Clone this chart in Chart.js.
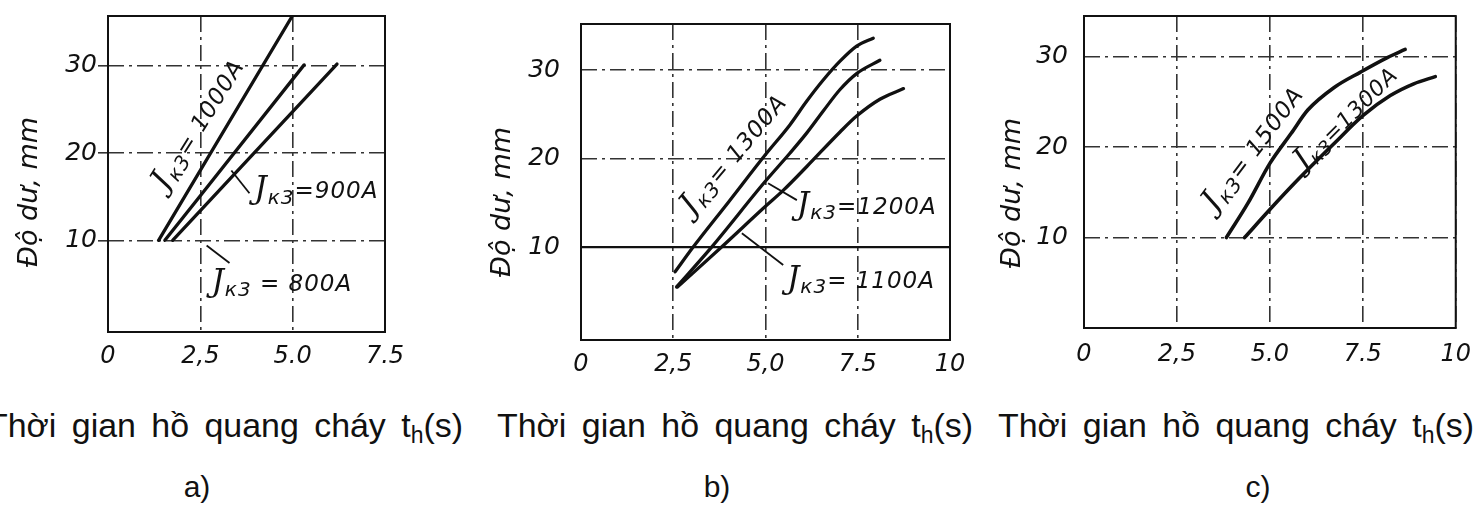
<!DOCTYPE html>
<html>
<head>
<meta charset="utf-8">
<script src="https://cdn.jsdelivr.net/npm/chart.js@4.4.0/dist/chart.umd.min.js"></script>
<style>
  html, body { margin: 0; padding: 0; background: #fff; }
  body { width: 1483px; height: 505px; position: relative; overflow: hidden; }
  canvas { position: absolute; top: 0; }
  .cap { position: absolute; font-family: "Liberation Sans", Arial, sans-serif; font-size: 34px;
         line-height: 1; color: #111; white-space: nowrap; word-spacing: 6px; transform-origin: left top; }
  .cap sub { font-size: 23px; vertical-align: -6px; line-height: 0; }
  .tag { position: absolute; width: 100px; text-align: center; font-family: "Liberation Sans", Arial, sans-serif;
         font-size: 30px; line-height: 1; color: #111; }
</style>
</head>
<body>
<canvas id="ca" width="480" height="385" style="left:0"></canvas>
<canvas id="cb" width="500" height="385" style="left:480px"></canvas>
<canvas id="cc" width="493" height="385" style="left:990px"></canvas>

<div class="cap" style="left:-13px;top:408px">Thời gian hồ quang cháy t<sub>h</sub>(s)</div>
<div class="cap" style="left:497px;top:408px">Thời gian hồ quang cháy t<sub>h</sub>(s)</div>
<div class="cap" style="left:998px;top:408px">Thời gian hồ quang cháy t<sub>h</sub>(s)</div>
<div class="tag" style="left:147px;top:472px">a)</div>
<div class="tag" style="left:667px;top:472px">b)</div>
<div class="tag" style="left:1208px;top:472px">c)</div>

<script>
// ---- axis ticks ----
const yTickValues = [10, 20, 30];
const xTickValuesA = [0, 2.5, 5, 7.5];
const xTickLabelsA = ['0', '2,5', '5.0', '7.5'];
const xTickValuesB = [0, 2.5, 5, 7.5, 10];
const xTickLabelsB = ['0', '2,5', '5,0', '7.5', '10'];
const xTickValuesC = [0, 2.5, 5, 7.5, 10];
const xTickLabelsC = ['0', '2,5', '5.0', '7.5', '10'];
const yTitle = 'Độ dư, mm';

// ---- panel a: arc time (s) vs. margin (mm) ----
const namesA = ['Jк3= 1000A', 'Jк3=900A', 'Jк3 = 800A'];
const timeA1000 = [1.37, 4.99];
const depthA1000 = [10, 35.7];
const timeA900 = [1.54, 5.31];
const depthA900 = [10, 30.1];
const timeA800 = [1.75, 6.2];
const depthA800 = [10, 30.2];

// ---- panel b ----
const namesB = ['Jк3= 1300A', 'Jк3=1200A', 'Jк3= 1100A'];
const timeB1300 = [2.55, 3.04, 4.0, 4.99, 5.66, 6.12, 6.57, 7.02, 7.47, 7.92];
const depthB1300 = [7.2, 10.0, 15.1, 20.4, 23.8, 26.5, 28.9, 31.0, 32.7, 33.6];
const timeB1200 = [2.59, 3.54, 4.99, 5.66, 6.12, 6.57, 7.02, 7.47, 8.1];
const depthB1200 = [5.5, 10.0, 17.4, 20.6, 22.9, 25.4, 27.8, 29.6, 31.1];
const timeB1100 = [2.62, 3.81, 5.0, 5.48, 6.12, 7.02, 7.47, 8.1, 8.74];
const depthB1100 = [5.5, 10.0, 14.6, 16.4, 19.1, 23.0, 24.8, 26.7, 27.9];
const timeBRef = [0, 10];
const depthBRef = [10, 10];

// ---- panel c ----
const namesC = ['Jк3= 1500A', 'Jк3=1300A'];
const timeC1500 = [3.83, 4.41, 5.0, 5.57, 6.02, 6.73, 7.44, 8.16, 8.64];
const depthC1500 = [10.0, 13.8, 18.2, 21.5, 24.1, 26.6, 28.3, 29.9, 30.8];
const timeC1300 = [4.32, 5.0, 5.66, 6.73, 7.51, 8.24, 8.87, 9.45];
const depthC1300 = [10.0, 13.1, 16.0, 20.4, 23.5, 25.7, 27.0, 27.8];

const INK = '#111';
const GRID = '#333';
const DASH = [16, 5, 3, 5];
const TICK_FONT = '"DejaVu Sans", sans-serif';

function pts(t, d) { return t.map((v, i) => ({ x: v, y: d[i] })); }

// "J" + subscript "к3" + "= value"
function drawCurrentLabel(ctx, px, py, text, angle, align, size) {
  const parts = [
    { t: text.slice(0, 1), font: `italic ${Math.round(size * 1.35)}px "DejaVu Serif", serif`, dy: 0 },
    { t: text.slice(1, 3), font: `italic ${Math.round(size * 0.85)}px "DejaVu Sans", sans-serif`, dy: size * 0.22 },
    { t: text.slice(3), font: `italic ${size}px "DejaVu Sans", sans-serif`, dy: 0 }
  ];
  ctx.save();
  ctx.translate(px, py);
  ctx.rotate(-angle * Math.PI / 180);
  ctx.fillStyle = INK;
  ctx.textBaseline = 'alphabetic';
  ctx.textAlign = 'left';
  if ('letterSpacing' in ctx) ctx.letterSpacing = '1px';
  let total = 0;
  parts.forEach(p => { ctx.font = p.font; p.w = ctx.measureText(p.t).width; total += p.w; });
  let cx = align === 'center' ? -total / 2 : 0;
  parts.forEach(p => { ctx.font = p.font; ctx.fillText(p.t, cx, p.dy); cx += p.w; });
  ctx.restore();
}

const decorPlugin = {
  id: 'decor',
  beforeDatasetsDraw(chart) {
    const { ctx, chartArea: a } = chart;
    ctx.save();
    ctx.strokeStyle = INK;
    ctx.lineWidth = 2;
    ctx.strokeRect(a.left, a.top, a.right - a.left, a.bottom - a.top);
    ctx.restore();
  },
  afterDatasetsDraw(chart, args, opts) {
    const { ctx } = chart;
    const xs = chart.scales.x, ys = chart.scales.y;
    // leader lines from a curve to its label
    ctx.save();
    ctx.strokeStyle = INK;
    ctx.lineWidth = 1.8;
    (opts.leaders || []).forEach(l => {
      ctx.beginPath();
      ctx.moveTo(xs.getPixelForValue(l[0]), ys.getPixelForValue(l[1]));
      ctx.lineTo(xs.getPixelForValue(l[2]), ys.getPixelForValue(l[3]));
      ctx.stroke();
    });
    ctx.restore();
    (opts.labels || []).forEach(l => {
      drawCurrentLabel(ctx, xs.getPixelForValue(l.x), ys.getPixelForValue(l.y), l.text, l.angle, l.align, l.size);
    });
    // vertical axis title
    ctx.save();
    ctx.translate(opts.titleX, opts.titleY);
    ctx.rotate(-Math.PI / 2);
    ctx.font = 'italic 27px "DejaVu Sans", sans-serif';
    ctx.fillStyle = INK;
    ctx.textAlign = 'center';
    ctx.textBaseline = 'middle';
    ctx.fillText(yTitle, 0, 0);
    ctx.restore();
  }
};

function makePanel(id, cfg) {
  const datasets = cfg.series.map(s => ({
    data: pts(s.t, s.d),
    borderColor: INK,
    borderWidth: s.w || 3.3,
    pointRadius: 0,
    fill: false,
    cubicInterpolationMode: 'monotone',
    borderCapStyle: 'round',
    borderJoinStyle: 'round'
  }));
  return new Chart(document.getElementById(id), {
    type: 'line',
    data: { datasets },
    plugins: [decorPlugin],
    options: {
      responsive: false,
      animation: false,
      events: [],
      layout: { padding: { left: 0, top: cfg.top, right: cfg.right, bottom: cfg.bottom } },
      plugins: {
        legend: { display: false },
        tooltip: { enabled: false },
        decor: { labels: cfg.labels, leaders: cfg.leaders, titleX: cfg.titleX, titleY: cfg.titleY }
      },
      scales: {
        x: {
          type: 'linear',
          min: 0,
          max: cfg.xMax,
          afterBuildTicks: s => { s.ticks = cfg.xVals.map(v => ({ value: v })); },
          afterFit: s => { s.height = 42; },
          ticks: {
            autoSkip: false, maxRotation: 0, padding: cfg.xPad, color: INK,
            font: { family: TICK_FONT, style: 'italic', size: 24 },
            callback: (v, i) => cfg.xLabels[i]
          },
          grid: { color: GRID, lineWidth: 1.6, drawTicks: false },
          border: { display: false, dash: DASH }
        },
        y: {
          type: 'linear',
          min: cfg.yMin,
          max: cfg.yMax,
          afterBuildTicks: s => { s.ticks = yTickValues.map(v => ({ value: v })); },
          afterFit: s => { s.width = cfg.left; },
          ticks: {
            padding: 1, color: INK,
            font: { family: TICK_FONT, style: 'italic', size: 25 }
          },
          grid: {
            color: GRID, lineWidth: 1.6, drawTicks: true, tickLength: cfg.yTickLen,
            tickColor: cfg.showTick ? GRID : 'rgba(0,0,0,0)', tickWidth: 1.6
          },
          border: { display: false, dash: DASH }
        }
      }
    }
  });
}

makePanel('ca', {
  top: 15, right: 95, bottom: 11, left: 108, yTickLen: 10, showTick: true, xPad: 10,
  xMax: 7.5, yMin: -0.5, yMax: 35.7, xVals: xTickValuesA, xLabels: xTickLabelsA,
  titleX: 30, titleY: 192,
  series: [
    { t: timeA1000, d: depthA1000 },
    { t: timeA900, d: depthA900 },
    { t: timeA800, d: depthA800 }
  ],
  labels: [
    { text: namesA[0], x: 2.64, y: 22.8, angle: 58, align: 'center', size: 23 },
    { text: namesA[1], x: 3.96, y: 14.8, angle: 0, align: 'left', size: 23 },
    { text: namesA[2], x: 2.80, y: 4.17, angle: 0, align: 'left', size: 23 }
  ],
  leaders: [[3.34, 18.0, 3.83, 15.4], [2.67, 9.4, 3.29, 7.4]]
});

makePanel('cb', {
  top: 24, right: 30, bottom: 3, left: 101, yTickLen: 20, showTick: false, xPad: 10,
  xMax: 10, yMin: -0.5, yMax: 35.2, xVals: xTickValuesB, xLabels: xTickLabelsB,
  titleX: 23, titleY: 202,
  series: [
    { t: timeB1300, d: depthB1300 },
    { t: timeB1200, d: depthB1200 },
    { t: timeB1100, d: depthB1100 },
    { t: timeBRef, d: depthBRef, w: 2.2 }
  ],
  labels: [
    { text: namesB[0], x: 4.31, y: 19.9, angle: 50, align: 'center', size: 23 },
    { text: namesB[1], x: 5.85, y: 13.7, angle: 0, align: 'left', size: 23 },
    { text: namesB[2], x: 5.58, y: 5.37, angle: 0, align: 'left', size: 23 }
  ],
  leaders: [[5.07, 17.2, 5.85, 15.3], [4.36, 11.55, 5.48, 7.97]]
});

makePanel('cc', {
  top: 15, right: 23, bottom: 15, left: 94, yTickLen: 15, showTick: false, xPad: 12,
  xMax: 10, yMin: 0, yMax: 34.5, xVals: xTickValuesC, xLabels: xTickLabelsC,
  titleX: 23, titleY: 193,
  series: [
    { t: timeC1500, d: depthC1500, w: 3.6 },
    { t: timeC1300, d: depthC1300, w: 3.6 }
  ],
  labels: [
    { text: namesC[0], x: 4.73, y: 19.3, angle: 53, align: 'center', size: 23 },
    { text: namesC[1], x: 7.2, y: 22.6, angle: 45, align: 'center', size: 22 }
  ],
  leaders: []
});

// stretch each caption line to the width of its panel
document.querySelectorAll('.cap').forEach(el => {
  const w = el.getBoundingClientRect().width;
  el.style.transform = `scaleX(${476 / w})`;
});
</script>
</body>
</html>
